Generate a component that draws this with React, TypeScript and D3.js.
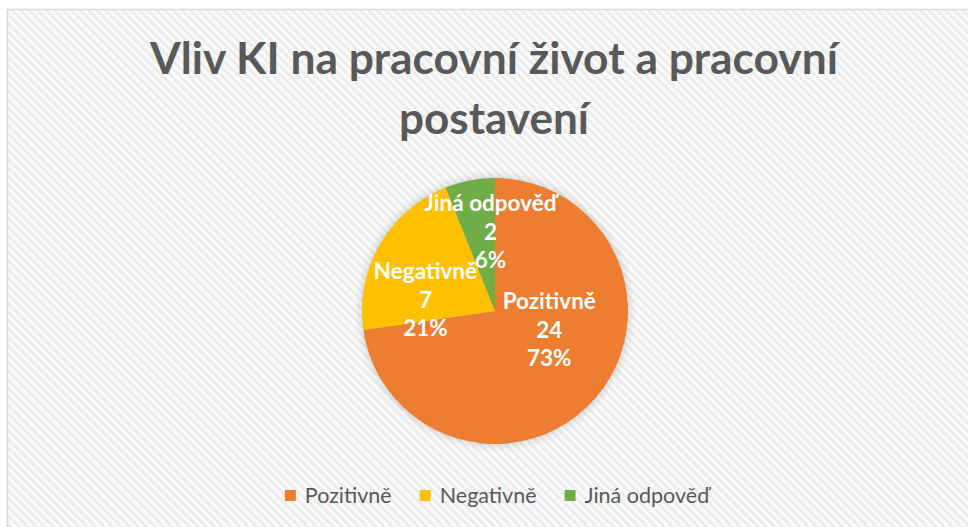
import React, { useMemo } from "react";
import * as d3 from "d3";

const categories = ["Pozitivně", "Negativně", "Jiná odpověď"];
const values = [24, 7, 2];
const colors = ["#ED7D31", "#FFC000", "#70AD47"];
const titleLines = ["Vliv KI na pracovní život a pracovní", "postavení"];

const W = 968;
const H = 527;
const CX = 495;
const CY = 311;
const R = 133;
const FONT = "Lato, 'Open Sans', sans-serif";

// small nudges from the centroid, mimicking Excel's best-fit label placement
const nudges: [number, number][] = [
  [4, -25],
  [-12, 22],
  [8, -14],
];

function measure(text: string, font: string): number {
  if (typeof document === "undefined") return text.length * 10;
  const c = document.createElement("canvas");
  const ctx = c.getContext("2d");
  if (!ctx) return text.length * 10;
  ctx.font = font;
  return ctx.measureText(text).width;
}

export default function App() {
  const total = d3.sum(values);
  const pie = d3
    .pie<number>()
    .sort(null)
    .startAngle(0)
    .endAngle(2 * Math.PI);
  const arcs = pie(values);
  const arc = d3.arc<d3.PieArcDatum<number>>().innerRadius(0).outerRadius(R);
  const fmt = d3.format(".0%");

  const labelSize = 22.5;
  const lineH = 28.5;
  const legendSize = 21.5;
  const sq = 11;
  const titleSize = 44;

  const titleWidths = useMemo(
    () => titleLines.map((t) => measure(t, `700 ${titleSize}px Lato`)),
    []
  );
  const titleTargets = [688, 190];

  const legend = useMemo(() => {
    const widths = categories.map((c) => measure(c, `${legendSize}px Lato`));
    const gapSq = 9;
    const gapItem = 28;
    const items = widths.map((w) => sq + gapSq + w);
    const totalW = d3.sum(items) + gapItem * (items.length - 1);
    let x = 497 - totalW / 2;
    return items.map((iw) => {
      const r = { x, textX: x + sq + gapSq };
      x += iw + gapItem;
      return r;
    });
  }, []);

  return (
    <svg
      width={W}
      height={H}
      style={{ position: "absolute", left: 0, top: 0, background: "#ffffff" }}
    >
      <defs>
        <pattern
          id="stripes"
          width={6}
          height={6}
          patternUnits="userSpaceOnUse"
          patternTransform="rotate(-45)"
        >
          <rect width={6} height={6} fill="#fbfbfb" />
          <rect width={2.6} height={6} fill="#ebebeb" />
        </pattern>
        <filter id="glow" x="-20%" y="-20%" width="140%" height="140%">
          <feGaussianBlur in="SourceAlpha" stdDeviation={5} />
          <feComponentTransfer>
            <feFuncA type="linear" slope={0.18} />
          </feComponentTransfer>
        </filter>
      </defs>
      <rect
        x={7.5}
        y={9.5}
        width={W + 20}
        height={H + 20}
        fill="url(#stripes)"
        stroke="#d9d9d9"
        strokeWidth={1.5}
      />
      {titleLines.map((t, i) => {
        const w = titleWidths[i];
        const useLen = w > 0 && Math.abs(w - titleTargets[i]) > 2;
        return (
          <text
            key={i}
            x={494}
            y={74 + i * 60}
            textAnchor="middle"
            fontFamily={FONT}
            fontWeight={700}
            fontSize={titleSize}
            fill="#595959"
            {...(useLen
              ? { textLength: titleTargets[i], lengthAdjust: "spacingAndGlyphs" }
              : {})}
          >
            {t}
          </text>
        );
      })}
      <g transform={`translate(${CX},${CY})`}>
        <circle r={R + 1} fill="#000" filter="url(#glow)" />
        {arcs.map((a, i) => (
          <path key={i} d={arc(a) || ""} fill={colors[i]} />
        ))}
        {arcs.map((a, i) => {
          const [x0, y0] = arc.centroid(a);
          const x = x0 + nudges[i][0];
          const y = y0 + nudges[i][1];
          const lines = [categories[i], String(values[i]), fmt(values[i] / total)];
          return (
            <text
              key={i}
              textAnchor="middle"
              fontFamily={FONT}
              fontWeight={700}
              fontSize={labelSize}
              fill="#ffffff"
            >
              {lines.map((l, j) => (
                <tspan key={j} x={x} y={y + (j - 1) * lineH + labelSize * 0.36}>
                  {l}
                </tspan>
              ))}
            </text>
          );
        })}
      </g>
      {categories.map((c, i) => (
        <g key={c}>
          <rect x={legend[i].x} y={490} width={sq} height={sq} fill={colors[i]} />
          <text
            x={legend[i].textX}
            y={503}
            fontFamily={FONT}
            fontSize={legendSize}
            fill="#595959"
          >
            {c}
          </text>
        </g>
      ))}
    </svg>
  );
}
